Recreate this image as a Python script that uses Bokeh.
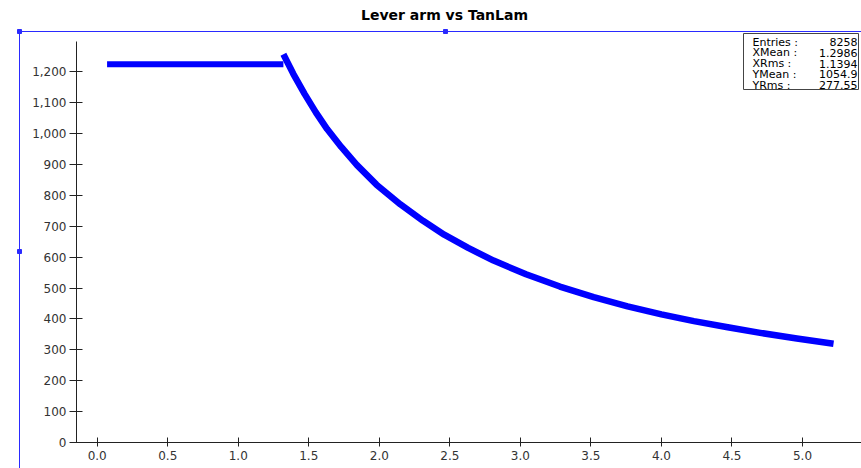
from bokeh.plotting import figure
from bokeh.models import Range1d, NumeralTickFormatter, FixedTicker
from bokeh.core.properties import value
from bokeh.embed import file_html
from bokeh.resources import INLINE

# ---------------- data ----------------
title_text = "Lever arm vs TanLam"
flat_x = [0.07, 1.32]
flat_y = [1225, 1225]
curve_x = [1.32, 1.39, 1.47, 1.55, 1.63, 1.73, 1.84, 1.98, 2.15, 2.31, 2.46,
           2.63, 2.81, 3.04, 3.28, 3.52, 3.76, 4.00, 4.23, 4.47, 4.70, 4.96, 5.22]
curve_y = [1257, 1194, 1129, 1069, 1015, 957, 899, 835, 771, 718, 673,
           630, 589, 545, 505, 471, 441, 415, 393, 373, 355, 337, 320]
x_ticks = [0.0, 0.5, 1.0, 1.5, 2.0, 2.5, 3.0, 3.5, 4.0, 4.5, 5.0]
y_ticks = [0, 100, 200, 300, 400, 500, 600, 700, 800, 900, 1000, 1100, 1200]
stat_names = ["Entries :", "XMean :", "XRms :", "YMean :", "YRms :"]
stat_values = ["8258", "1.2986", "1.1394", "1054.9", "277.55"]

# ---------------- layout helpers (reference pixel -> data) ----------------
X0_PX, PX_PER_X = 96.7, 141.06
Y0_PX, PX_PER_Y = 442.0, 0.3088


def sx(px):
    return (px - X0_PX) / PX_PER_X


def sy(py):
    return (Y0_PX - py) / PX_PER_Y


W, H = 861, 468
p = figure(width=W, height=H, output_backend="svg", toolbar_location=None,
           x_range=Range1d(sx(0), sx(W)), y_range=Range1d(sy(H), sy(0)),
           min_border=0, outline_line_color=None, background_fill_color="white")
p.grid.visible = False

AX_X = sx(76)
p.xaxis.fixed_location = 0
p.yaxis.fixed_location = AX_X
p.xaxis.bounds = (AX_X, sx(870))
p.yaxis.bounds = (0, sy(41))
p.xaxis.ticker = FixedTicker(ticks=x_ticks)
p.yaxis.ticker = FixedTicker(ticks=y_ticks)
p.xaxis.formatter = NumeralTickFormatter(format="0.0")
p.yaxis.formatter = NumeralTickFormatter(format="0,0")
for ax in (p.xaxis, p.yaxis):
    ax.axis_line_color = "#222222"
    ax.axis_line_width = 1
    ax.major_tick_line_color = "#222222"
    ax.minor_tick_line_color = None
    ax.major_label_text_font = "DejaVu Sans"
    ax.major_label_text_font_size = "12px"
    ax.major_label_text_color = "#333333"
p.yaxis.major_tick_in = 6
p.yaxis.major_tick_out = 7
p.yaxis.major_label_standoff = 3
p.xaxis.major_tick_in = 5
p.xaxis.major_tick_out = 4
p.xaxis.major_label_standoff = 4

# ---------------- canvas decorations (blue selection frame) ----------------
BLUE = "#2a2aff"
p.segment(x0=[sx(19), sx(19)], y0=[sy(31), sy(31)],
          x1=[sx(19), sx(880)], y1=[sy(490), sy(31)],
          line_color=BLUE, line_width=1)
p.scatter(x=[sx(19), sx(445), sx(19)], y=[sy(31), sy(31), sy(251)],
          marker="square", size=4, color=BLUE)

# ---------------- data ----------------
p.line(flat_x, flat_y, line_width=6, color="#0000ff", line_cap="butt")
p.line(curve_x, curve_y, line_width=6.5, color="#0000ff", line_join="round", line_cap="butt")

# ---------------- title ----------------
p.text(x=[sx(444)], y=[sy(14)], text=[title_text], text_align="center",
       text_baseline="middle", text_font=value("DejaVu Sans"),
       text_font_style="bold", text_font_size="14px", text_color="black")

# ---------------- stats box ----------------
p.quad(left=[sx(743)], right=[sx(858)], top=[sy(33)], bottom=[sy(89)],
       fill_color="white", line_color="#444444", line_width=1)
rows_y = [sy(41.5), sy(52.3), sy(63.0), sy(73.8), sy(84.5)]
p.text(x=[sx(752)] * 5, y=rows_y, text=stat_names, text_align="left",
       text_baseline="middle", text_font=value("DejaVu Sans"),
       text_font_size="11px", text_color="black")
p.text(x=[sx(857)] * 5, y=rows_y, text=stat_values, text_align="right",
       text_baseline="middle", text_font=value("DejaVu Sans"),
       text_font_size="11px", text_color="black")

open("out.html", "w").write(file_html(p, INLINE))
